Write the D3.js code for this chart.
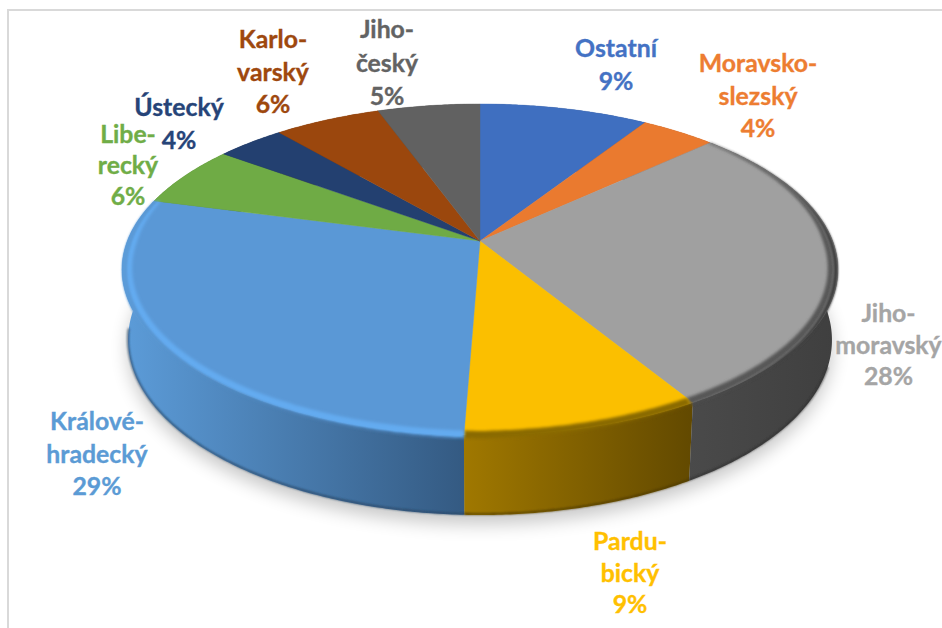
<!DOCTYPE html>
<html>
<head>
<meta charset="utf-8">
<script src="https://cdn.jsdelivr.net/npm/d3@7/dist/d3.min.js"></script>
<style>
html,body{margin:0;padding:0;background:#fff;overflow:hidden}
svg{display:block}
text{font-family:Lato,"Open Sans",sans-serif;font-weight:700;font-size:24.8px;text-anchor:middle;stroke-width:.35px}
</style>
</head>
<body>
<svg id="c" width="942" height="628"></svg>
<script>
const categories = ["Ostatní","Moravskoslezský","Jihomoravský","Pardubický","Královéhradecký","Liberecký","Ústecký","Karlovarský","Jihočeský"];
const values = [9, 4, 28.4, 9.2, 28.6, 6, 3.65, 5.7, 5.45];
const labelLines = [["Ostatní"],["Moravsko-","slezský"],["Jiho-","moravský"],["Pardu-","bický"],["Králové-","hradecký"],["Libe-","recký"],["Ústecký"],["Karlo-","varský"],["Jiho-","český"]];
const topColors = ["#3f6fc0","#ea7a2f","#a0a0a0","#fbbf00","#5a98d6","#6fab45","#234070","#9b470d","#616161"];
const textColors = ["#4472c4","#ed7d31","#a5a5a5","#ffc000","#5b9bd5","#70ad47","#264478","#9e480e","#636363"];
const wallLeft = ["#2a4a82","#9e5320","#4a4a4a","#a07800","#5c9cd9","#4a732f","#182b4c","#692f09","#424242"];
const wallRight = ["#2a4a82","#9e5320","#3f3f3f","#624900","#345a82","#4a732f","#182b4c","#692f09","#424242"];
const rimColors = ["#3f6fc0","#ea7a2f","#565656","#8a6a00","#64abf0","#6fab45","#234070","#9b470d","#616161"];
const labelAnchors = [[616,57],[758,72],[888.5,322],[630,550],[97,430],[128,143],[179,116],[273,48],[387,38]];
const lineGaps = [32.6,32.6,31.6,31.6,32.6,31,33,32.6,33.6];

const svg = d3.select("#c");
const defs = svg.append("defs");
[["blurShadow",9],["blurRim",1.5],["blurEdge",0.8]].forEach(([id,s])=>{
  defs.append("filter").attr("id",id).attr("x","-20%").attr("y","-20%").attr("width","140%").attr("height","140%")
    .append("feGaussianBlur").attr("stdDeviation",s);
});

// perspective projection of the pie disc
const cx = 480, cyTop = 241, cyBottom = 310, A = 352.7, B = 160.6, k = 0.172;
const project = (a, r, cy, sx=1, sy=1, dy=0) => {
  const u = r*Math.sin(a), v = -r*Math.cos(a), w = 1 - k*v;
  return [cx + sx*A*u/w, cy + sy*B*v/w + dy];
};
const bottomPoint = (a, dy=0) => project(a,1,cyBottom,.983,1.057,dy);
const samples = (a0, a1) => {
  const n = Math.max(2, Math.ceil((a1-a0)/0.01));
  return d3.range(n+1).map(i => a0 + (a1-a0)*i/n);
};
const line = d3.line();
const pie = d3.pie().sort(null).startAngle(0).endAngle(2*Math.PI);
const arcs = pie(values);
const total = d3.sum(values);
const pct = d3.format(".0%");

// frame
svg.append("path").attr("d","M8,628V10H942").attr("fill","none").attr("stroke","#d9d9d9").attr("stroke-width",2);

// drop shadow
svg.append("path")
  .attr("d", line(samples(0,2*Math.PI).map(a=>bottomPoint(a,9))) + "Z")
  .attr("fill","#000").attr("opacity",.22).attr("filter","url(#blurShadow)");

// walls
const depthOrder = d3.range(arcs.length).sort((i,j)=>
  -Math.cos((arcs[j].startAngle+arcs[j].endAngle)/2) + Math.cos((arcs[i].startAngle+arcs[i].endAngle)/2));
depthOrder.forEach(i=>{
  const d = arcs[i], as = samples(d.startAngle,d.endAngle);
  const topPts = as.map(a=>project(a,1,cyTop));
  const botPts = as.map(a=>bottomPoint(a));
  const xs = topPts.concat(botPts).map(p=>p[0]);
  const id = "wall"+i;
  const g = defs.append("linearGradient").attr("id",id).attr("gradientUnits","userSpaceOnUse")
    .attr("x1",d3.min(xs)).attr("x2",d3.max(xs)).attr("y1",0).attr("y2",0);
  g.append("stop").attr("offset",0).attr("stop-color",wallLeft[i]);
  g.append("stop").attr("offset",1).attr("stop-color",wallRight[i]);
  svg.append("path").attr("d",line(topPts.concat(botPts.reverse()))+"Z").attr("fill",`url(#${id})`);
});

// darker lower edge of the front wall
arcs.forEach((d,i)=>{
  const a0 = Math.max(d.startAngle,1.9), a1 = Math.min(d.endAngle,4.6);
  if (a1<=a0) return;
  svg.append("path").attr("d",line(samples(a0,a1).map(a=>bottomPoint(a,-1)))).attr("fill","none")
    .attr("stroke",d3.color(wallRight[i]).darker(.7)).attr("stroke-width",1.6).attr("filter","url(#blurEdge)");
});

// top surface
arcs.forEach((d,i)=>{
  const pts = [[cx,cyTop]].concat(samples(d.startAngle,d.endAngle).map(a=>project(a,1,cyTop)));
  svg.append("path").attr("d",line(pts)+"Z").attr("fill",topColors[i]).attr("stroke",topColors[i]).attr("stroke-width",.4);
});

// bevel: a soft rim sits just inside the wall colour that wraps over the side edge
const taper = a => Math.min(1, 1-Math.cos(a));
const edgeWidth = a => Math.sqrt(Math.abs(Math.sin(a)))*taper(a);
arcs.forEach((d,i)=>{
  if (topColors[i]===rimColors[i]) return;
  const as = samples(d.startAngle,d.endAngle);
  const rOut = a => 1-.012*edgeWidth(a);
  const rIn = a => rOut(a)-.016*taper(a);
  const lift = a => Math.max(0,-Math.cos(a))*4;
  const outer = as.map(a=>project(a,rOut(a),cyTop,1,1,lift(a)));
  const inner = as.map(a=>project(a,rIn(a),cyTop));
  const rimEdge = as.map(a=>project(a,1,cyTop,1,1,lift(a)));
  svg.append("path").attr("d",line(outer.concat(inner.reverse()))+"Z")
    .attr("fill",rimColors[i]).attr("filter","url(#blurRim)");
  svg.append("path").attr("d",line(rimEdge.concat(outer.slice().reverse()))+"Z")
    .attr("fill",`url(#wall${i})`).attr("filter","url(#blurEdge)");
});

// labels
arcs.forEach((d,i)=>{
  const [x,y] = labelAnchors[i];
  const rows = labelLines[i].concat(pct(values[i]/total));
  const t = svg.append("text").attr("fill",textColors[i]).attr("stroke",textColors[i]);
  rows.forEach((s,j)=>t.append("tspan").attr("x",x).attr("y",y+j*lineGaps[i]).text(s));
});
</script>
</body>
</html>
